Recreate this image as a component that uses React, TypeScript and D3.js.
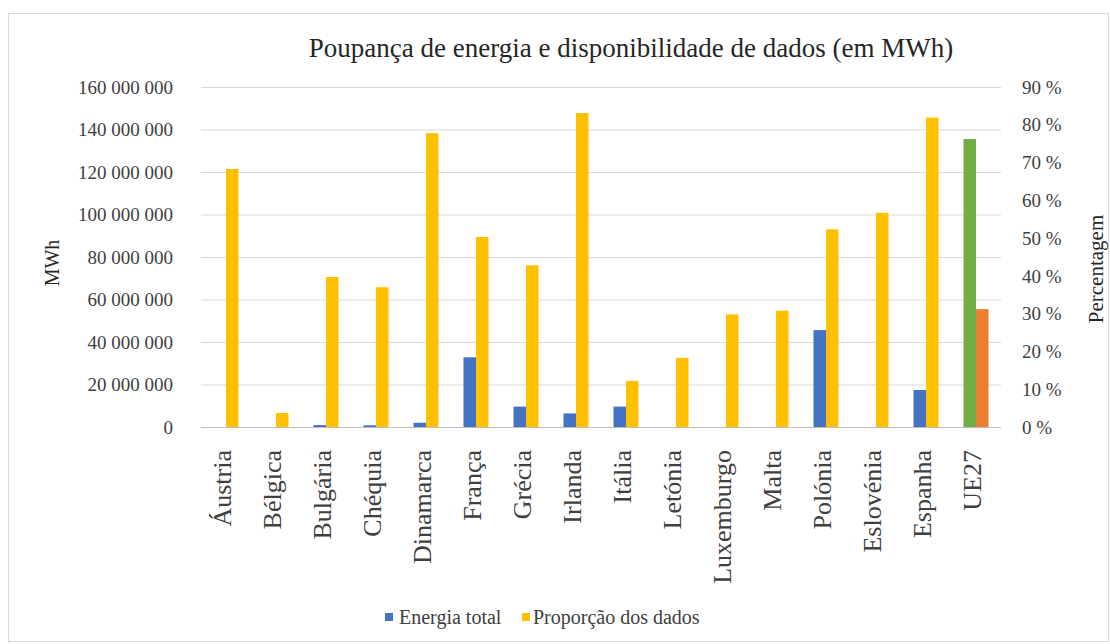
import React from 'react';
import * as d3 from 'd3';

const categories = ['Áustria','Bélgica','Bulgária','Chéquia','Dinamarca','França','Grécia','Irlanda','Itália','Letónia','Luxemburgo','Malta','Polónia','Eslovénia','Espanha','UE27'];
const energiaTotal = [0, 0, 900000, 800000, 2000000, 32800000, 9600000, 6400000, 9600000, 0, 0, 0, 45600000, 0, 17400000, 135500000];
const proporcaoDados = [68.3, 3.7, 39.7, 37.0, 77.8, 50.3, 42.8, 83.1, 12.2, 18.3, 29.8, 30.8, 52.3, 56.7, 81.9, 31.2];
const leftTicks = [0, 20000000, 40000000, 60000000, 80000000, 100000000, 120000000, 140000000, 160000000];
const rightTicks = [0, 10, 20, 30, 40, 50, 60, 70, 80, 90];
const seriesNames = ['Energia total', 'Proporção dos dados'];
const highlightCategory = 'UE27';

const W = 1110, H = 644;
const plot = { left: 201, right: 1001, top: 87, bottom: 427 };
const COLORS = { energy: '#4472C4', share: '#FFC000', energyHi: '#70AD47', shareHi: '#ED7D31' };
const FONT = 'Liberation Serif';
const TXT = '#404040';

export default function App() {
  const x = d3.scaleBand<string>().domain(categories).range([plot.left, plot.right]).paddingInner(0.5).paddingOuter(0.25);
  const sub = d3.scaleBand<string>().domain(['e', 'p']).range([0, x.bandwidth()]);
  const yL = d3.scaleLinear().domain([0, 160000000]).range([plot.bottom, plot.top]);
  const yR = d3.scaleLinear().domain([0, 90]).range([plot.bottom, plot.top]);
  const fmt = (v: number) => d3.format(',')(v).replace(/,/g, ' ');
  const ts = (size: number) => ({ fontFamily: FONT, fontSize: size + 'px' });

  return (
    <svg width={W} height={H} style={{ position: 'absolute', left: 0, top: 0, background: '#fff' }}>
      <rect x={8.5} y={13.5} width={1100} height={628} fill="#fff" stroke="#d9d9d9" />
      <text x={631} y={57} textAnchor="middle" style={ts(27)} fill="#262626">
        Poupança de energia e disponibilidade de dados (em MWh)
      </text>
      {leftTicks.map((t) => (
        <g key={'g' + t}>
          <line x1={plot.left} x2={plot.right} y1={yL(t) + 0.5} y2={yL(t) + 0.5} stroke={t === 0 ? '#bfbfbf' : '#d9d9d9'} />
          <text x={173} y={yL(t)} dy="0.35em" textAnchor="end" style={ts(19)} fill={TXT}>{fmt(t)}</text>
        </g>
      ))}
      {rightTicks.map((t) => (
        <text key={'r' + t} x={1022} y={yR(t)} dy="0.35em" textAnchor="start" style={ts(19)} fill={TXT}>{t + ' %'}</text>
      ))}
      <text transform="translate(59,263) rotate(-90)" textAnchor="middle" style={ts(20)} fill="#262626">MWh</text>
      <text transform="translate(1103,269) rotate(-90)" textAnchor="middle" style={ts(21)} fill="#262626">Percentagem</text>
      {categories.map((c, i) => {
        const hi = c === highlightCategory;
        const x0 = x(c)!;
        const e = energiaTotal[i];
        const p = proporcaoDados[i];
        return (
          <g key={c}>
            {e > 0 && (
              <rect x={x0 + sub('e')!} y={yL(e)} width={sub.bandwidth()} height={plot.bottom - yL(e)} fill={hi ? COLORS.energyHi : COLORS.energy} />
            )}
            {p > 0 && (
              <rect x={x0 + sub('p')!} y={yR(p)} width={sub.bandwidth()} height={plot.bottom - yR(p)} fill={hi ? COLORS.shareHi : COLORS.share} />
            )}
          </g>
        );
      })}
      {categories.map((c) => {
        const cx = x(c)! + x.bandwidth() / 2;
        return (
          <text key={'l' + c} transform={`translate(${cx + 5},450) rotate(-90)`} textAnchor="end" style={ts(26)} fill={TXT}>{c}</text>
        );
      })}
      <g>
        <rect x={385} y={613} width={8} height={8} fill={COLORS.energy} />
        <text x={399} y={624} style={ts(20)} fill={TXT}>{seriesNames[0]}</text>
        <rect x={522} y={613} width={8} height={8} fill={COLORS.share} />
        <text x={533} y={624} style={ts(20)} fill={TXT}>{seriesNames[1]}</text>
      </g>
    </svg>
  );
}
